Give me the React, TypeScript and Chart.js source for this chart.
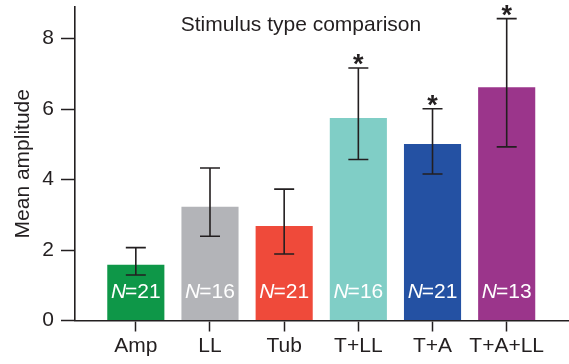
import React, { useEffect, useRef } from "react";
import { Chart, registerables } from "chart.js";

Chart.register(...registerables);

const categories = ["Amp", "LL", "Tub", "T+LL", "T+A", "T+A+LL"];
const means = [1.58, 3.23, 2.68, 5.75, 5.01, 6.62];
const errUpper = [2.07, 4.33, 3.73, 7.17, 6.01, 8.57];
const errLower = [1.29, 2.39, 1.89, 4.57, 4.16, 4.93];
const nCounts = [21, 16, 21, 16, 21, 13];
const significant = [false, false, false, true, true, true];
const barColors = ["#0e9748", "#b3b4b8", "#ef4a3a", "#80cec6", "#2451a3", "#9b358b"];
const yTicks = [0, 2, 4, 6, 8];
const titleText = "Stimulus type comparison";
const yTitle = "Mean amplitude";

const FONT = '"Liberation Sans", Arial, Helvetica, sans-serif';
const INK = "#231f20";
const FS = 21;

const overlayPlugin = {
  id: "overlay",
  afterDatasetsDraw(chart: any) {
    const ctx = chart.ctx;
    const xs = chart.scales.x;
    const ys = chart.scales.y;
    const area = chart.chartArea;
    ctx.save();
    ctx.strokeStyle = INK;
    ctx.lineWidth = 1.6;
    for (let i = 0; i < categories.length; i++) {
      const cx = xs.getPixelForValue(i);
      const yT = ys.getPixelForValue(errUpper[i]);
      const yB = ys.getPixelForValue(errLower[i]);
      const cap = 10;
      ctx.beginPath();
      ctx.moveTo(cx, yT);
      ctx.lineTo(cx, yB);
      ctx.moveTo(cx - cap, yT);
      ctx.lineTo(cx + cap, yT);
      ctx.moveTo(cx - cap, yB);
      ctx.lineTo(cx + cap, yB);
      ctx.stroke();
      if (significant[i]) {
        ctx.fillStyle = INK;
        ctx.font = `bold 27px ${FONT}`;
        ctx.textAlign = "center";
        ctx.textBaseline = "alphabetic";
        ctx.fillText("*", cx, yT + 5);
      }
      const nPart = "N";
      const rest = "=" + nCounts[i];
      ctx.fillStyle = "#ffffff";
      ctx.textBaseline = "middle";
      ctx.textAlign = "left";
      ctx.font = `italic ${FS}px ${FONT}`;
      const w1 = ctx.measureText(nPart).width;
      ctx.font = `${FS}px ${FONT}`;
      const w2 = ctx.measureText(rest).width;
      const startX = cx - (w1 + w2 - 1) / 2;
      const ny = area.bottom - 28;
      ctx.font = `italic ${FS}px ${FONT}`;
      ctx.fillText(nPart, startX, ny);
      ctx.font = `${FS}px ${FONT}`;
      ctx.fillText(rest, startX + w1 - 1, ny);
    }
    ctx.fillStyle = INK;
    ctx.font = `${FS}px ${FONT}`;
    ctx.textAlign = "center";
    ctx.textBaseline = "middle";
    ctx.fillText(titleText, 301, 25);
    ctx.restore();
  },
};

export default function App() {
  const ref = useRef<HTMLCanvasElement>(null);
  useEffect(() => {
    document.body.style.margin = "0";
    const canvas = ref.current!;
    const chart = new Chart(canvas, {
      type: "bar",
      data: {
        datasets: [
          {
            data: means.map((v, i) => ({ x: i, y: v })) as any,
            backgroundColor: barColors,
            borderWidth: 0,
            barPercentage: 0.77,
            categoryPercentage: 1,
          },
        ],
      },
      options: {
        responsive: false,
        animation: false,
        events: [],
        layout: { padding: { top: 7, right: 0, bottom: 0, left: 0 } },
        plugins: { legend: { display: false }, tooltip: { enabled: false }, title: { display: false } },
        scales: {
          x: {
            type: "linear",
            min: -0.82,
            max: 5.84,
            offset: false,
            afterBuildTicks: (s: any) => {
              s.ticks = categories.map((_, i) => ({ value: i }));
            },
            afterFit: (s: any) => {
              s.height = 43.5;
              s.paddingLeft = 0;
              s.paddingRight = 0;
            },
            grid: {
              display: true,
              offset: false,
              drawOnChartArea: false,
              drawTicks: true,
              tickLength: 11,
              tickColor: INK,
              tickWidth: 1.5,
            },
            border: { display: true, color: INK, width: 1.6 },
            ticks: {
              color: INK,
              font: { family: FONT, size: FS },
              padding: 2,
              maxRotation: 0,
              autoSkip: false,
              callback: (v: any) => categories[Math.round(v)] ?? "",
            },
          },
          y: {
            type: "linear",
            min: 0,
            max: 8.9,
            afterBuildTicks: (s: any) => {
              s.ticks = yTicks.map((v) => ({ value: v }));
            },
            afterFit: (s: any) => {
              s.width = 75;
              s.paddingTop = 0;
              s.paddingBottom = 0;
            },
            grid: {
              display: true,
              drawOnChartArea: false,
              drawTicks: true,
              tickLength: 14,
              tickColor: INK,
              tickWidth: 1.5,
            },
            border: { display: true, color: INK, width: 1.6 },
            ticks: {
              color: INK,
              font: { family: FONT, size: FS },
              padding: 7,
            },
            title: {
              display: true,
              text: yTitle,
              color: INK,
              font: { family: FONT, size: FS },
              padding: { top: 11, bottom: 0 },
            },
          },
        },
      },
      plugins: [overlayPlugin],
    });
    return () => chart.destroy();
  }, []);
  return (
    <div style={{ width: 569, height: 364 }}>
      <canvas ref={ref} width={569} height={364} />
    </div>
  );
}
